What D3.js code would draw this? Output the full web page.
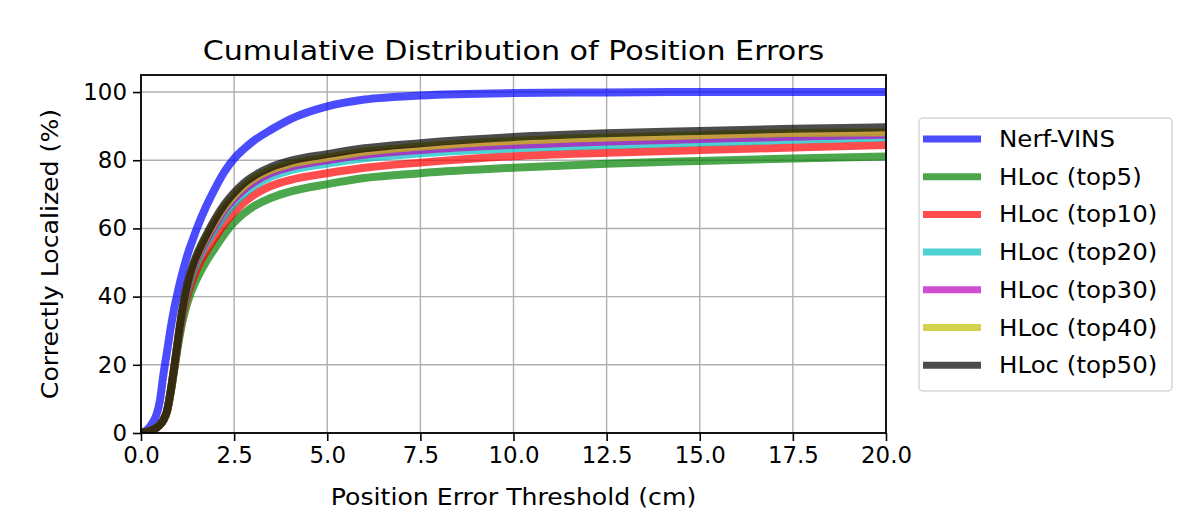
<!DOCTYPE html>
<html>
<head>
<meta charset="utf-8">
<script src="https://cdn.jsdelivr.net/npm/d3@7"></script>
<style>
  body { margin: 0; background: #fff; }
  text { font-family: "DejaVu Sans", sans-serif; fill: #000; }
</style>
</head>
<body>
<svg id="chart" width="1196" height="530"></svg>
<script>
// thresholds (cm) where the curves were read
const thresholds = [0, 0.25, 0.5, 0.6, 0.7, 0.8, 0.9, 1.0, 1.1, 1.2, 1.3, 1.4, 1.5, 1.75, 2.0, 2.25, 2.5, 2.75, 3.0, 3.5, 4.0, 5.0, 6.0, 7.5, 10, 12.5, 15, 17.5, 20];

const nerfVins  = [0, 2, 9, 17, 24, 31, 37, 42, 46.5, 50.5, 54, 57, 60, 66.5, 72, 76.8, 80.5, 83.2, 85.5, 89, 92, 95.8, 97.8, 99, 99.7, 99.9, 100, 100, 100];
const hlocTop5  = [0, 0.7, 2.3, 3.8, 6.3, 12, 19, 26, 32, 36.5, 40, 42.8, 45.2, 50.3, 54.5, 58.5, 61.8, 64.3, 66.3, 69, 70.8, 73, 74.8, 76.2, 77.8, 79, 79.8, 80.5, 81.1];
const hlocTop10 = [0, 0.7, 2.3, 3.8, 6.4, 12.3, 19.5, 27, 33.5, 38.5, 42.3, 45.3, 48, 53.2, 57.5, 61.5, 64.8, 67.5, 69.6, 72.5, 74.2, 76.2, 77.8, 79.3, 81.2, 82.2, 83, 83.7, 84.5];
const hlocTop20 = [0, 0.7, 2.3, 3.8, 6.5, 12.5, 19.8, 27.5, 34.5, 40, 44, 47.3, 50, 55.6, 60, 64, 67.3, 70, 72.2, 75.2, 77, 79, 80.6, 82, 83.5, 84.4, 85.2, 86, 86.7];
const hlocTop30 = [0, 0.7, 2.3, 3.8, 6.5, 12.5, 20, 27.8, 35, 40.8, 45, 48.3, 51.2, 56.7, 61.5, 65.5, 68.6, 71.2, 73.3, 76.3, 78, 80, 81.6, 83, 84.5, 85.5, 86.2, 86.9, 87.5];
const hlocTop40 = [0, 0.7, 2.3, 3.8, 6.5, 12.5, 20, 28, 35.3, 41.2, 45.5, 49, 51.8, 57.5, 62.3, 66.4, 69.6, 72.3, 74.4, 77.2, 78.9, 80.8, 82.5, 84, 85.7, 86.7, 87.3, 88, 88.2];
const hlocTop50 = [0, 0.7, 2.3, 3.8, 6.5, 12.5, 20, 28, 35.5, 41.5, 46, 49.5, 52.3, 58, 63, 67.2, 70.5, 73.2, 75.2, 78, 79.8, 81.8, 83.5, 85, 86.8, 87.9, 88.6, 89.2, 89.7];

const seriesNames = ["Nerf-VINS", "HLoc (top5)", "HLoc (top10)", "HLoc (top20)", "HLoc (top30)", "HLoc (top40)", "HLoc (top50)"];
const seriesColors = ["#0000ff", "#008000", "#ff0000", "#00bfbf", "#bf00bf", "#bfbf00", "#000000"];
const seriesValues = [nerfVins, hlocTop5, hlocTop10, hlocTop20, hlocTop30, hlocTop40, hlocTop50];

const xTicks = [0, 2.5, 5, 7.5, 10, 12.5, 15, 17.5, 20];
const yTicks = [0, 20, 40, 60, 80, 100];

const margin = { left: 141, right: 310, top: 75, bottom: 97 };
const width = 1196, height = 530;

const svg = d3.select("#chart");

// the reference text renders a bit wider than DejaVu at this size
function stretch(sel, k) {
  sel.each(function () {
    const w = this.getComputedTextLength();
    d3.select(this).attr("textLength", w * k).attr("lengthAdjust", "spacingAndGlyphs");
  });
}

const x = d3.scaleLinear().domain([0, 20]).range([margin.left, width - margin.right]);
const y = d3.scaleLinear().domain([0, 105]).range([height - margin.bottom, margin.top]);

svg.append("defs").append("clipPath").attr("id", "plot-clip")
  .append("rect")
  .attr("x", x(0)).attr("y", y(105))
  .attr("width", x(20) - x(0)).attr("height", y(0) - y(105));

// grid
const grid = svg.append("g").attr("stroke", "#b0b0b0").attr("stroke-width", 1.4);
grid.selectAll(".gx").data(xTicks).enter().append("line")
  .attr("x1", d => x(d)).attr("x2", d => x(d))
  .attr("y1", y(0)).attr("y2", y(105));
grid.selectAll(".gy").data(yTicks).enter().append("line")
  .attr("x1", x(0)).attr("x2", x(20))
  .attr("y1", d => y(d)).attr("y2", d => y(d));

// curves
const line = d3.line()
  .x((d, i) => x(thresholds[i]))
  .y(d => y(d))
  .curve(d3.curveMonotoneX);

svg.append("g").attr("clip-path", "url(#plot-clip)")
  .selectAll("path")
  .data(seriesValues)
  .enter()
  .append("path")
  .attr("d", line)
  .attr("fill", "none")
  .attr("stroke", (d, i) => seriesColors[i])
  .attr("stroke-opacity", 0.7)
  .attr("stroke-width", 8)
  .attr("stroke-linejoin", "round");

// axes
const xAxis = svg.append("g")
  .attr("transform", `translate(0,${y(0)})`)
  .call(d3.axisBottom(x).tickValues(xTicks).tickFormat(d3.format(".1f")).tickSize(8).tickPadding(6));
const yAxis = svg.append("g")
  .attr("transform", `translate(${x(0)},0)`)
  .call(d3.axisLeft(y).tickValues(yTicks).tickSize(8).tickPadding(6));

[xAxis, yAxis].forEach(a => {
  a.select(".domain").remove();
  a.selectAll(".tick line").attr("stroke", "#000").attr("stroke-width", 1.6);
  a.selectAll(".tick text").attr("font-size", 22.9).attr("fill", "#000")
    .style("font-family", "DejaVu Sans, sans-serif");
});

// frame
svg.append("rect")
  .attr("x", x(0)).attr("y", y(105))
  .attr("width", x(20) - x(0)).attr("height", y(0) - y(105))
  .attr("fill", "none").attr("stroke", "#000").attr("stroke-width", 1.8);

// labels
svg.append("text")
  .attr("x", (x(0) + x(20)) / 2).attr("y", 60)
  .attr("text-anchor", "middle").attr("font-size", 27.4)
  .text("Cumulative Distribution of Position Errors")
  .call(stretch, 1.1);

svg.append("text")
  .attr("x", (x(0) + x(20)) / 2).attr("y", 505)
  .attr("text-anchor", "middle").attr("font-size", 22.9)
  .text("Position Error Threshold (cm)")
  .call(stretch, 1.1);

svg.append("text")
  .attr("transform", `translate(58,${(y(0) + y(105)) / 2}) rotate(-90)`)
  .attr("text-anchor", "middle").attr("font-size", 22.9)
  .text("Correctly Localized (%)")
  .call(stretch, 1.1);

// legend
const legend = svg.append("g").attr("transform", "translate(919,118)");
legend.append("rect")
  .attr("width", 253).attr("height", 273).attr("rx", 4)
  .attr("fill", "#fff").attr("fill-opacity", 0.8)
  .attr("stroke", "#d6d6d6").attr("stroke-width", 1.5);

const rows = legend.selectAll(".row").data(seriesNames).enter().append("g")
  .attr("transform", (d, i) => `translate(0,${21 + i * 37.7})`);
rows.append("line")
  .attr("x1", 4).attr("x2", 62)
  .attr("stroke", (d, i) => seriesColors[i])
  .attr("stroke-opacity", 0.7)
  .attr("stroke-width", 7);
rows.append("text")
  .attr("x", 80).attr("dy", "0.35em")
  .attr("font-size", 22.9)
  .text(d => d)
  .call(stretch, 1.07);
</script>
</body>
</html>
